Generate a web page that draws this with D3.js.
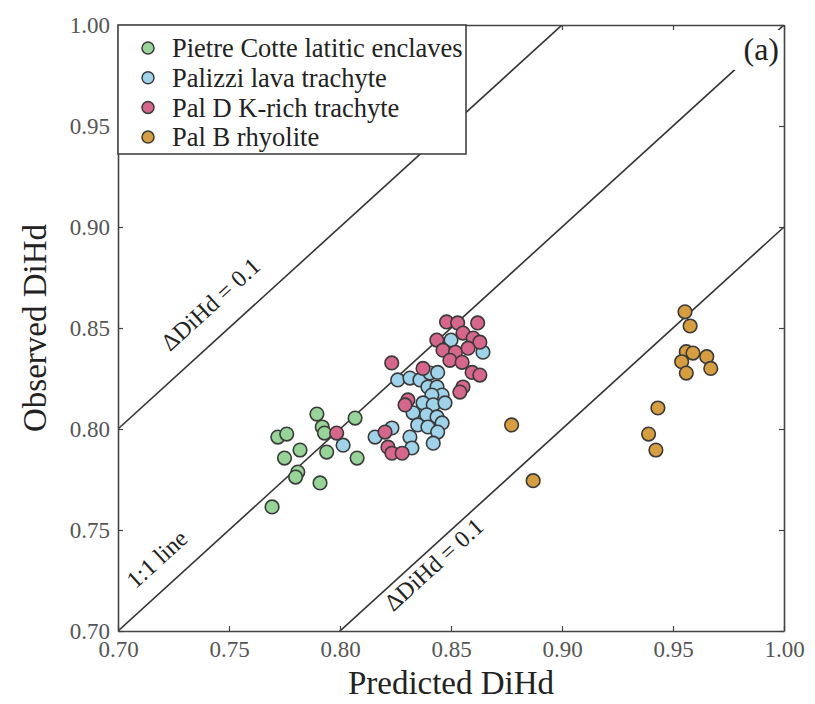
<!DOCTYPE html>
<html>
<head>
<meta charset="utf-8">
<script src="https://cdn.jsdelivr.net/npm/d3@7"></script>
<style>
  body { margin: 0; background: #fff; }
  svg text { font-family: "Liberation Serif", "Times New Roman", serif; }
</style>
</head>
<body>
<div id="chart"></div>
<script>
// series: [predicted, observed]
var pietreCotte = [
  [0.7896, 0.8074], [0.772, 0.796], [0.776, 0.7975], [0.782, 0.7896], [0.775, 0.7856],
  [0.792, 0.801], [0.793, 0.798], [0.794, 0.7886], [0.781, 0.7787], [0.780, 0.7762],
  [0.791, 0.7733], [0.8068, 0.8054], [0.8077, 0.7856], [0.7694, 0.7614]
];
var palizzi = [
  [0.850, 0.844], [0.8644, 0.838], [0.826, 0.8243], [0.8315, 0.8252], [0.836, 0.8243],
  [0.8405, 0.8277], [0.844, 0.828], [0.8396, 0.8208], [0.8437, 0.8208], [0.846, 0.8168],
  [0.8414, 0.8168], [0.8374, 0.8129], [0.842, 0.812], [0.8473, 0.8129], [0.8329, 0.808],
  [0.839, 0.807], [0.8437, 0.806], [0.846, 0.803], [0.835, 0.802], [0.8396, 0.801],
  [0.844, 0.7985], [0.842, 0.793], [0.8158, 0.796], [0.8234, 0.8005], [0.8315, 0.796],
  [0.8324, 0.7906], [0.8014, 0.792]
];
var palD = [
  [0.848, 0.853], [0.853, 0.8525], [0.862, 0.8525], [0.8436, 0.844], [0.8554, 0.8475],
  [0.860, 0.845], [0.863, 0.843], [0.8464, 0.839], [0.852, 0.838], [0.8577, 0.840],
  [0.8495, 0.834], [0.855, 0.833], [0.8595, 0.828], [0.863, 0.8267], [0.8554, 0.8208],
  [0.854, 0.8183], [0.8233, 0.8327], [0.8374, 0.830], [0.8306, 0.8144], [0.8293, 0.8119],
  [0.8203, 0.7985], [0.8216, 0.791], [0.8234, 0.788], [0.828, 0.788], [0.7985, 0.798]
];
var palB = [
  [0.9554, 0.858], [0.9577, 0.851], [0.956, 0.8383], [0.959, 0.8376], [0.9539, 0.8333],
  [0.956, 0.8277], [0.9652, 0.8358], [0.967, 0.830], [0.9432, 0.8104], [0.939, 0.7975],
  [0.9423, 0.7896], [0.8773, 0.802], [0.887, 0.7744]
];

var seriesNames = ["Pietre Cotte latitic enclaves", "Palizzi lava trachyte", "Pal D K-rich trachyte", "Pal B rhyolite"];
var seriesColors = ["#97d497", "#9fd3ea", "#d6668b", "#d69e3e"];
var seriesData = [pietreCotte, palizzi, palD, palB];

var tickValues = [0.70, 0.75, 0.80, 0.85, 0.90, 0.95, 1.00];
// reference lines y = x + offset
var refOffsets = [0.1, 0, -0.1];
var refLabels = [
  { text: "\u0394DiHd = 0.1", offset: 0.1, at: 0.7508, dy: -22 },
  { text: "1:1 line", offset: 0, at: 0.7257, dy: -19 },
  { text: "\u0394DiHd = 0.1", offset: -0.1, at: 0.838, dy: 22 }
];

var width = 815, height = 704;
var margin = { left: 118, right: 31, top: 25, bottom: 73 };

var svg = d3.select('#chart').append('svg')
  .attr('width', width)
  .attr('height', height);

var x = d3.scaleLinear().domain([0.70, 1.00]).range([margin.left, width - margin.right]);
var y = d3.scaleLinear().domain([0.70, 1.00]).range([height - margin.bottom, margin.top]);

svg.append('clipPath').attr('id', 'clip')
  .append('rect')
  .attr('x', x(0.70)).attr('y', y(1.00))
  .attr('width', x(1.00) - x(0.70)).attr('height', y(0.70) - y(1.00));

var plot = svg.append('g').attr('clip-path', 'url(#clip)');

// reference lines
plot.selectAll('line.ref')
  .data(refOffsets)
  .enter().append('line')
  .attr('class', 'ref')
  .attr('x1', d => x(0.70)).attr('y1', d => y(0.70 + d))
  .attr('x2', d => x(1.00)).attr('y2', d => y(1.00 + d))
  .attr('stroke', '#333')
  .attr('stroke-width', 1.6);

var angle = Math.atan2(y(0.80) - y(0.70), x(0.80) - x(0.70)) * 180 / Math.PI;

svg.selectAll('text.reflabel')
  .data(refLabels)
  .enter().append('text')
  .attr('class', 'reflabel')
  .attr('transform', d => 'translate(' + x(d.at) + ',' + y(d.at + d.offset) + ') rotate(' + angle + ')')
  .attr('dy', d => d.dy)
  .attr('text-anchor', 'middle')
  .style('font-size', '24px')
  .style('fill', '#222')
  .text(d => d.text);

// points
seriesData.forEach(function(data, i) {
  plot.append('g').selectAll('circle')
    .data(data)
    .enter().append('circle')
    .attr('cx', d => x(d[0]))
    .attr('cy', d => y(d[1]))
    .attr('r', 6.8)
    .attr('fill', seriesColors[i])
    .attr('stroke', '#3a3a3a')
    .attr('stroke-width', 1.6);
});

// axes, ticks pointing inward on all four sides
var tickFmt = d3.format('.2f');
var axB = svg.append('g').attr('transform', 'translate(0,' + y(0.70) + ')')
  .call(d3.axisBottom(x).tickValues(tickValues).tickFormat(tickFmt).tickSizeInner(-5).tickSizeOuter(0).tickPadding(10));
var axL = svg.append('g').attr('transform', 'translate(' + x(0.70) + ',0)')
  .call(d3.axisLeft(y).tickValues(tickValues).tickFormat(tickFmt).tickSizeInner(-5).tickSizeOuter(0).tickPadding(8));
var axT = svg.append('g').attr('transform', 'translate(0,' + y(1.00) + ')')
  .call(d3.axisTop(x).tickValues(tickValues).tickFormat('').tickSizeInner(-5).tickSizeOuter(0));
var axR = svg.append('g').attr('transform', 'translate(' + x(1.00) + ',0)')
  .call(d3.axisRight(y).tickValues(tickValues).tickFormat('').tickSizeInner(-5).tickSizeOuter(0));

[axB, axL, axT, axR].forEach(function(a) {
  a.select('.domain').attr('stroke', '#444').attr('stroke-width', 1.6);
  a.selectAll('.tick line').attr('stroke', '#444').attr('stroke-width', 1.2);
  a.selectAll('.tick text')
    .style('font-family', '"Liberation Serif", serif')
    .style('font-size', '23px')
    .attr('fill', '#555');
});

// legend
var legend = svg.append('g');
legend.append('rect')
  .attr('x', x(0.70)).attr('y', y(1.00))
  .attr('width', 348).attr('height', 129)
  .attr('fill', '#fff')
  .attr('stroke', '#444')
  .attr('stroke-width', 1.6);

var items = legend.selectAll('g.item')
  .data(seriesNames)
  .enter().append('g')
  .attr('class', 'item')
  .attr('transform', (d, i) => 'translate(' + (x(0.70) + 30) + ',' + (y(1.00) + 23 + i * 29.7) + ')');
items.append('circle')
  .attr('r', 6)
  .attr('fill', (d, i) => seriesColors[i])
  .attr('stroke', '#3a3a3a')
  .attr('stroke-width', 1.5);
items.append('text')
  .attr('x', 24)
  .attr('dy', '0.35em')
  .style('font-size', '26.5px')
  .style('fill', '#222')
  .text(d => d);

// panel label
svg.append('rect')
  .attr('x', 734).attr('y', 30).attr('width', 46).attr('height', 40)
  .attr('fill', '#fff');
svg.append('text')
  .attr('x', 779).attr('y', 60)
  .attr('text-anchor', 'end')
  .style('font-size', '32px')
  .style('fill', '#222')
  .text('(a)');

// axis titles
svg.append('text')
  .attr('x', (x(0.70) + x(1.00)) / 2)
  .attr('y', 694)
  .attr('text-anchor', 'middle')
  .style('font-size', '33px')
  .style('fill', '#222')
  .text('Predicted DiHd');
svg.append('text')
  .attr('transform', 'translate(46,' + ((y(0.70) + y(1.00)) / 2) + ') rotate(-90)')
  .attr('text-anchor', 'middle')
  .style('font-size', '33px')
  .style('fill', '#222')
  .text('Observed DiHd');
</script>
</body>
</html>
